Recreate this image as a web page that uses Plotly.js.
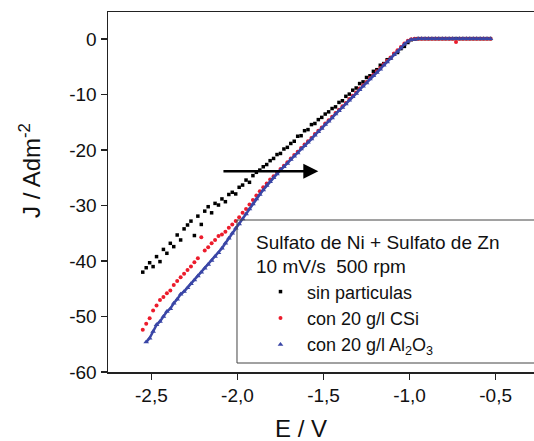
<!DOCTYPE html>
<html>
<head>
<meta charset="utf-8">
<script src="https://cdn.plot.ly/plotly-3.0.1.min.js"></script>
<style>html,body{margin:0;padding:0;background:#fff;}#chart{width:534px;height:441px;}</style>
</head>
<body>
<div id="chart"></div>
<script>
// Potential (V)
const E = [-2.55,-2.53,-2.51,-2.49,-2.47,-2.45,-2.43,-2.41,-2.39,-2.37,-2.35,-2.33,-2.31,-2.29,-2.27,-2.25,-2.23,-2.21,-2.19,-2.17,-2.15,-2.13,-2.11,-2.09,-2.07,-2.05,-2.03,-2.01,
-1.99,-1.97,-1.95,-1.93,-1.91,-1.89,-1.87,-1.85,-1.83,-1.81,-1.79,-1.77,-1.75,-1.73,-1.71,-1.69,-1.67,-1.65,-1.63,-1.61,-1.59,-1.57,-1.55,-1.53,-1.51,-1.49,-1.47,-1.45,-1.43,-1.41,
-1.39,-1.37,-1.35,-1.33,-1.31,-1.29,-1.27,-1.25,-1.23,-1.21,-1.19,-1.17,-1.15,-1.13,-1.11,-1.09,-1.07,-1.05,-1.03,-1.01,
-0.99,-0.97,-0.95,-0.93,-0.91,-0.89,-0.87,-0.85,-0.83,-0.81,-0.79,-0.77,-0.75,-0.73,-0.71,-0.69,-0.67,-0.65,-0.63,-0.61,-0.59,-0.57,-0.55,-0.53];

// Current density J (A/dm2) - sin particulas
const J_sin = [-42.0,-41.2,-40.3,-41.0,-39.2,-40.1,-37.9,-38.6,-36.8,-37.4,-35.3,-36.2,-34.2,-33.5,-32.8,-35.4,-31.9,-33.4,-31.0,-30.2,-31.3,-29.6,-29.9,-28.8,-29.3,-28.0,-27.6,-27.9,
-26.7,-26.3,-25.4,-25.8,-24.6,-24.0,-23.6,-23.0,-22.6,-21.9,-21.5,-20.8,-20.6,-19.8,-19.5,-18.8,-18.4,-17.5,-17.4,-16.5,-16.3,-15.4,-15.2,-14.5,-14.1,-13.5,-13.1,-12.5,-12.2,-11.4,
-11.1,-10.3,-9.9,-9.2,-8.8,-8.0,-7.7,-6.9,-6.6,-5.8,-5.5,-4.7,-4.4,-3.7,-3.4,-2.7,-2.4,-1.7,-1.3,-0.6,
-0.1,0.0,0.1,0.1,0.1,0.1,0.1,0.1,0.1,0.1,0.1,0.1,0.1,0.1,0.1,0.1,0.1,0.1,0.1,0.1,0.1,0.1,0.1,0.1];

// con 20 g/l CSi
const J_csi = [-52.4,-51.3,-50.3,-48.9,-48.0,-47.0,-46.5,-45.8,-45.3,-44.3,-43.6,-42.9,-42.3,-41.6,-41.0,-40.2,-39.5,-35.7,-38.1,-37.5,-36.8,-36.2,-35.5,-35.2,-34.7,-34.0,-33.4,-32.8,
-32.1,-31.3,-30.6,-29.8,-29.0,-28.2,-27.4,-26.7,-26.0,-25.3,-24.7,-24.0,-23.4,-22.8,-22.2,-21.5,-20.9,-20.3,-19.6,-19.0,-18.4,-17.8,-17.1,-16.5,-15.9,-15.2,-14.6,-14.0,-13.3,-12.7,
-12.1,-11.5,-10.8,-10.2,-9.6,-8.9,-8.3,-7.7,-7.0,-6.4,-5.8,-5.2,-4.5,-3.9,-3.3,-2.6,-2.0,-1.4,-0.8,-0.3,
0.0,0.1,0.1,0.1,0.1,0.1,0.1,0.1,0.1,0.1,0.1,0.1,0.1,-0.5,0.1,0.1,0.1,0.1,0.1,0.1,0.1,0.1,0.1,0.1];

// con 20 g/l Al2O3
const J_al = [null,-54.6,-53.9,-52.7,-51.5,-50.9,-50.0,-49.1,-48.6,-47.6,-46.9,-46.0,-45.5,-44.8,-44.1,-43.4,-42.7,-42.0,-41.3,-40.6,-39.9,-39.2,-38.5,-37.7,-36.8,-35.9,-35.0,-34.1,
-33.3,-32.4,-31.5,-30.6,-29.7,-28.8,-28.0,-27.2,-26.4,-25.7,-25.0,-24.3,-23.6,-23.0,-22.4,-21.7,-21.1,-20.5,-19.8,-19.2,-18.6,-18.0,-17.3,-16.7,-16.1,-15.4,-14.8,-14.2,-13.5,-12.9,
-12.3,-11.7,-11.0,-10.4,-9.8,-9.1,-8.5,-7.9,-7.2,-6.6,-6.0,-5.4,-4.7,-4.1,-3.5,-2.8,-2.2,-1.6,-0.9,-0.4,
-0.1,0.0,0.1,0.1,0.1,0.1,0.1,0.1,0.1,0.1,0.1,0.1,0.1,0.1,0.1,0.1,0.1,0.1,0.1,0.1,0.1,0.1,0.1,0.1];

const seriesNames = ['sin particulas', 'con 20 g/l CSi', 'con 20 g/l Al<sub>2</sub>O<sub>3</sub>'];
const legendTitle = 'Sulfato de Ni + Sulfato de Zn<br>10 mV/s\u00a0 500 rpm';
const xTickVals = [-2.5, -2.0, -1.5, -1.0, -0.5];
const xTickText = ['-2,5', '-2,0', '-1,5', '-1,0', '-0,5'];
const yTickVals = [0, -10, -20, -30, -40, -50, -60];
const yTickText = ['0', '-10', '-20', '-30', '-40', '-50', '-60'];
const arrowFrom = [-2.09, -23.8];
const arrowTo = [-1.53, -23.8];

const BLUE = '#3a46a6';
const RED = '#ec1c2c';

const traces = [
  {x: E, y: J_sin, type: 'scatter', mode: 'markers', name: seriesNames[0],
   marker: {symbol: 'square', size: 3.5, color: '#000'}},
  {x: E, y: J_csi, type: 'scatter', mode: 'markers', name: seriesNames[1],
   marker: {symbol: 'circle', size: 4, color: RED}},
  {x: E, y: J_al, type: 'scatter', mode: 'lines', showlegend: false, hoverinfo: 'skip',
   line: {color: BLUE, width: 2.5}},
  {x: E, y: J_al, type: 'scatter', mode: 'markers', name: seriesNames[2],
   marker: {symbol: 'triangle-up', size: 5, color: BLUE}}
];

const FONT = 'Arial, "Liberation Sans", sans-serif';

const layout = {
  width: 534, height: 441,
  margin: {l: 108, r: 0, t: 12, b: 69},
  paper_bgcolor: '#fff', plot_bgcolor: '#fff',
  font: {family: FONT, color: '#111', size: 19},
  showlegend: true,
  xaxis: {
    range: [-2.752, -0.277], tickvals: xTickVals, ticktext: xTickText,
    showgrid: false, zeroline: false, showline: true, mirror: true,
    linecolor: '#222', linewidth: 1.5, ticks: 'outside', ticklen: 6, tickwidth: 1.5, tickcolor: '#222',
    tickfont: {size: 19, family: FONT, color: '#111'}
  },
  yaxis: {
    range: [-60, 4.9], tickvals: yTickVals, ticktext: yTickText,
    showgrid: false, zeroline: false, showline: true,
    linecolor: '#222', linewidth: 1.5, ticks: 'outside', ticklen: 6, tickwidth: 1.5, tickcolor: '#222',
    tickfont: {size: 19, family: FONT, color: '#111'}
  },
  legend: {
    x: 0.3427, y: 0.4111, xanchor: 'left', yanchor: 'top',
    borderwidth: 0, bgcolor: 'rgba(0,0,0,0)',
    font: {size: 18, family: FONT, color: '#111'},
    title: {text: legendTitle, font: {size: 19, family: FONT, color: '#111'}},
    itemwidth: 43,
    tracegroupgap: 0
  },
  shapes: [
    {type: 'rect', xref: 'paper', yref: 'paper', x0: 0.3028, x1: 1.1, y0: 0.025, y1: 0.4222,
     line: {color: '#444', width: 1}, fillcolor: 'rgba(0,0,0,0)', layer: 'above'}
  ],
  annotations: [
    {xref: 'paper', yref: 'paper', x: -0.1831, y: 0.5611, xanchor: 'center', yanchor: 'middle',
     text: 'J / Adm<sup>-2</sup>', textangle: -90, showarrow: false, font: {size: 24, family: FONT, color: '#111'}},
    {xref: 'paper', yref: 'paper', x: 0.453, y: -0.1583, xanchor: 'center', yanchor: 'middle',
     text: 'E / V', showarrow: false, font: {size: 24, family: FONT, color: '#111'}},
    {xref: 'x', yref: 'y', axref: 'x', ayref: 'y', x: arrowTo[0], y: arrowTo[1], ax: arrowFrom[0], ay: arrowFrom[1],
     text: '', showarrow: true, arrowhead: 2, arrowsize: 1.2, arrowwidth: 2.5, arrowcolor: '#000'}
  ]
};

Plotly.newPlot('chart', traces, layout, {displayModeBar: false, staticPlot: true});
</script>
</body>
</html>
